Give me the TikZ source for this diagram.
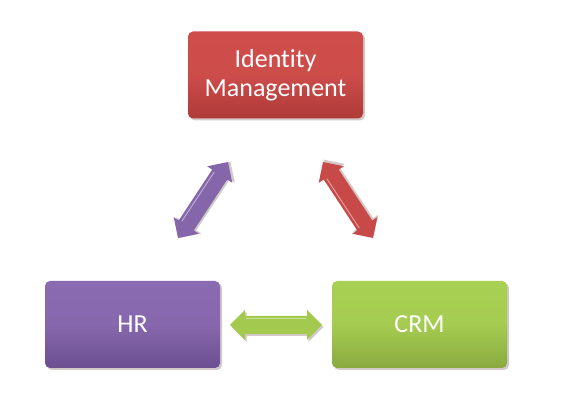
\documentclass[tikz,border=0pt]{standalone}
\usepackage{fontspec}
\setmainfont{Carlito}[Ligatures=NoCommon]
\usetikzlibrary{calc,shadows}
\definecolor{redT}{HTML}{CF4E4C}
\definecolor{redB}{HTML}{AE3A38}
\definecolor{purT}{HTML}{8A6AB0}
\definecolor{purB}{HTML}{6B4F91}
\definecolor{grnT}{HTML}{A8D052}
\definecolor{grnB}{HTML}{89A940}
\definecolor{shad}{HTML}{D2C8C8}
\tikzset{
  box/.style={rounded corners=5pt, minimum width=175pt, minimum height=87pt,
    text=white, font=\fontsize{26}{28.5}\selectfont, align=center, inner sep=0pt,
    drop shadow={shadow xshift=2pt, shadow yshift=-2pt, fill=shad, opacity=1}},
  redbox/.style={box, top color=redT, bottom color=redB, middle color=redT!92!redB},
  purbox/.style={box, top color=purT, bottom color=purB, middle color=purT!90!purB},
  grnbox/.style={box, top color=grnT, bottom color=grnB, middle color=grnT!90!grnB},
}
\newcommand\blockarrow[3]{%
  \path let \p1=($(#2)-(#1)$), \n1={atan2(\y1,\x1)}, \n2={veclen(\x1,\y1)} in
    \pgfextra{\xdef\arrang{\n1}\xdef\arrlen{\n2}};
  \begin{scope}[shift={(#1)}, rotate=\arrang]
    \fill[shad] (1.5,-2) -- ++(15,15) -- ++(0,-6) -- ({\arrlen-15},9-2) -- ++(0,6)
      -- ({\arrlen+1.5},-2) -- ++(-15,-15) -- ++(0,6) -- (16.5,-9-2) -- ++(0,-6) -- cycle;
    \fill[#3] (0,0) -- (15,15) -- (15,9) -- ({\arrlen-15},9) -- ({\arrlen-15},15)
      -- ({\arrlen},0) -- ({\arrlen-15},-15) -- ({\arrlen-15},-9) -- (15,-9)
      -- (15,-15) -- cycle;
    \draw[white, opacity=0.45, line width=1pt] (16,6) -- ({\arrlen-16},6);
  \end{scope}}
\begin{document}
\begin{tikzpicture}[x=1pt,y=1pt]
  \useasboundingbox (0,0) rectangle (566,403);
  \node[redbox] (idm) at (275.5,328) {Identity\\Management};
  \node[purbox] (hr) at (132.5,78.5) {HR};
  \node[grnbox] (crm) at (419.5,78.5) {CRM};
  \coordinate (p1) at (178,165);
  \coordinate (p2) at (228,241);
  \coordinate (r1) at (323,241);
  \coordinate (r2) at (373,165);
  \coordinate (g1) at (230,78);
  \coordinate (g2) at (322,78);
  \blockarrow{p1}{p2}{purT!85!purB}
  \blockarrow{r2}{r1}{redT!80!redB}
  \blockarrow{g1}{g2}{grnT!85!grnB}
\end{tikzpicture}
\end{document}
